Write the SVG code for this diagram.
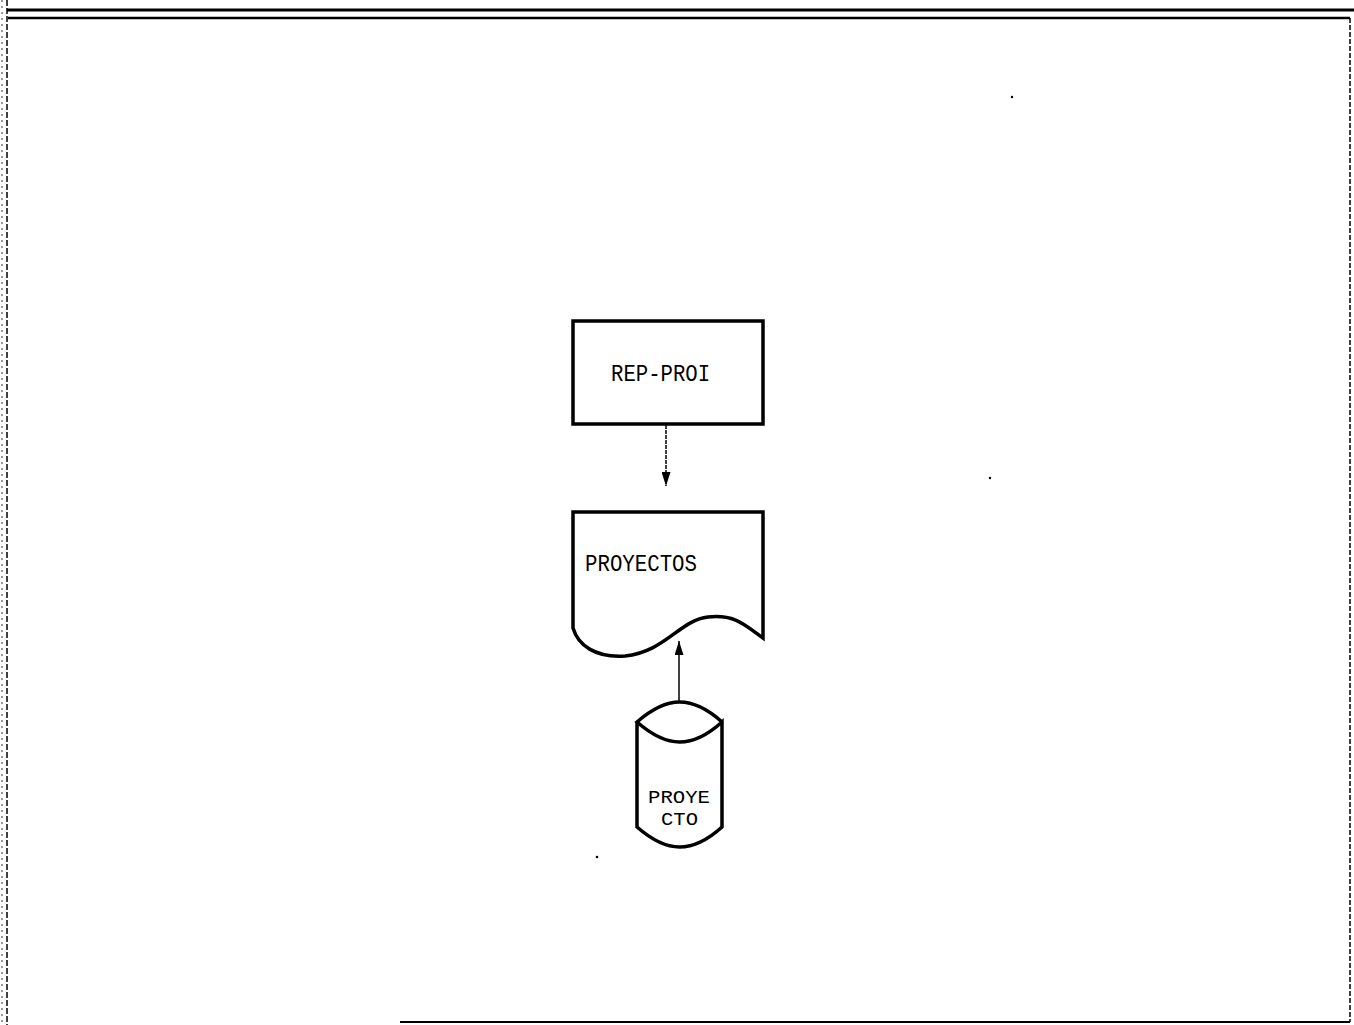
<svg xmlns="http://www.w3.org/2000/svg" width="1354" height="1025" viewBox="0 0 1354 1025">
<defs>
<style>
.frame{stroke:#000;fill:none}
.node{stroke:#000;stroke-width:3.5;fill:#fff}
.lbl{font-family:"Liberation Mono","DejaVu Sans Mono",monospace;font-size:24px;fill:#000}
.sm{font-size:19px}
.conn{stroke:#000;stroke-width:1.5;fill:none}
</style>
<marker id="arr" viewBox="0 0 14 9" refX="14" refY="4.5" markerWidth="14" markerHeight="9" markerUnits="userSpaceOnUse" orient="auto">
<path d="M0,0 L14,4.5 L0,9 Z" fill="#000"/>
</marker>
</defs>
<rect width="1354" height="1025" fill="#fff"/>
<g id="frame">
<line class="frame" x1="7" y1="10" x2="1354" y2="10" stroke-width="3"/>
<line class="frame" x1="8" y1="18" x2="1350" y2="18" stroke-width="2.5"/>
<line class="frame" x1="7" y1="0" x2="7" y2="1025" stroke-width="1.5" stroke-dasharray="6 2"/>
<line class="frame" x1="2" y1="0" x2="2" y2="1025" stroke-width="0.8" stroke-dasharray="2 4"/>
<line class="frame" x1="1350" y1="18" x2="1350" y2="1022" stroke-width="1.5" stroke-dasharray="5 2"/>
<line class="frame" x1="400" y1="1022" x2="1350" y2="1022" stroke-width="2"/>
<circle cx="1012" cy="97" r="1.2" fill="#000"/>
<circle cx="990" cy="478" r="1.2" fill="#000"/>
<circle cx="597" cy="857" r="1.3" fill="#000"/>
</g>
<g id="connectors">
<line class="conn" x1="666" y1="425" x2="666" y2="486" stroke-dasharray="4 1" marker-end="url(#arr)"/>
<line class="conn" x1="679" y1="703" x2="679" y2="641" marker-end="url(#arr)"/>
</g>
<g id="rep-proi">
<rect class="node" x="573" y="321" width="190" height="103"/>
<text class="lbl" x="611" y="381" textLength="99" lengthAdjust="spacingAndGlyphs">REP-PROI</text>
</g>
<g id="proyectos">
<path class="node" d="M573,512 L763,512 L763,638 C745,625 735,614 708,617 C680,620 665,652 625,656 C595,658 578,645 573,628 Z"/>
<text class="lbl" x="585" y="571" textLength="112" lengthAdjust="spacingAndGlyphs">PROYECTOS</text>
</g>
<g id="proyecto">
<path class="node" d="M637,722 L637,827 Q660,847 679.5,847 Q700,847 722,827 L722,722 Q700,742 679.5,742 Q660,742 637,722 Q660,702 679.5,702 Q700,702 722,722"/>
<text class="lbl sm" x="648" y="803" textLength="62" lengthAdjust="spacingAndGlyphs">PROYE</text>
<text class="lbl sm" x="661" y="825" textLength="37" lengthAdjust="spacingAndGlyphs">CTO</text>
</g>
</svg>
